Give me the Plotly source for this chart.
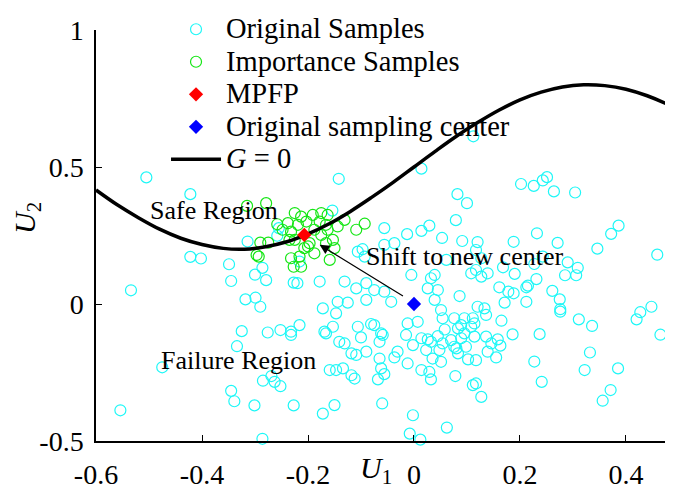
import plotly.graph_objects as go

# ---- Original samples (cyan open circles) ----
orig_u1 = [0.112,
 -0.505, -0.422, -0.314, -0.422, -0.402, -0.349, -0.345, -0.534, -0.300, -0.286, -0.279, -0.318, -0.299, -0.290, -0.255, -0.258, -0.227,
 -0.325, -0.276, -0.252, -0.232, -0.232, -0.334, -0.475, -0.285, -0.269, -0.263, -0.252, -0.345, -0.339, -0.301, -0.227, -0.554, -0.286,
 -0.142, 0.014, 0.082, 0.100, 0.079, -0.154, -0.056, -0.013, 0.014, 0.029, 0.053, 0.091, 0.120, 0.117, 0.127, -0.097, -0.106, -0.093,
 -0.056, -0.037, -0.005, 0.032, 0.039, 0.026, 0.045, -0.131, -0.109, -0.090, -0.075, -0.056, 0.086, -0.216, -0.220, -0.178, 0.061,
 0.108, 0.127, 0.117, 0.139,
 -0.172, -0.147, -0.144, -0.125, -0.090, -0.043, 0.007, -0.012, 0.039, 0.051, 0.054, 0.076, 0.095, 0.111, 0.120, 0.133, 0.136, 0.114,
 0.089, 0.083, 0.108, -0.216, -0.153, -0.169, -0.166, -0.106, -0.081, -0.075, -0.100, -0.062, -0.059, -0.065, -0.015, 0.014, 0.026,
 0.032, 0.045, 0.058, 0.054, 0.070, 0.080, 0.089, 0.095, 0.114, 0.136, -0.141, -0.131, -0.118, -0.109, -0.090, -0.065, -0.037, -0.031,
 -0.012, -0.002, 0.023, 0.035, 0.048, 0.051, 0.076, 0.083, 0.098, 0.102, 0.117, 0.139, 0.146, -0.159, -0.147, -0.134, -0.118, -0.112,
 -0.068, -0.062, -0.056, 0.014, 0.029, 0.032, 0.078, 0.111, 0.117, 0.127, -0.172, -0.150, -0.060, -0.002, -0.008, 0.012, 0.062,
 0.202, 0.226, 0.243, 0.251, 0.264, 0.304, 0.232, 0.188, 0.271, 0.346, 0.372, 0.386, 0.459, 0.168, 0.190, 0.227, 0.243, 0.290, 0.309,
 0.306, 0.285, 0.231, 0.215, 0.212, 0.161, 0.178, 0.188, 0.261, 0.275,
 0.171, 0.212, 0.276, 0.276, 0.165, 0.186, 0.158, 0.163, 0.155, 0.237, 0.311, 0.336, 0.332, 0.322, 0.227, 0.241, 0.385, 0.371, 0.356,
 0.420, 0.427, 0.448, 0.465]
orig_u2 = [0.612,
 0.462, 0.401, 0.228, 0.172, 0.166, 0.145, 0.084, 0.050, 0.107, 0.132, 0.087, 0.017, 0.023, -0.010, 0.277, 0.249, 0.078,
 -0.099, -0.104, -0.095, -0.101, -0.113, -0.154, -0.231, -0.280, -0.263, -0.284, -0.300, -0.317, -0.355, -0.370, -0.370, -0.388, -0.492,
 0.457, 0.494, 0.401, 0.368, 0.306, 0.341, 0.277, 0.255, 0.267, 0.286, 0.241, 0.230, 0.226, 0.197, 0.167, 0.200, 0.191, 0.173,
 0.216, 0.222, 0.106, 0.094, 0.106, 0.057, 0.051, 0.082, 0.057, 0.076, 0.051, 0.045, 0.029, 0.155, 0.076, 0.082, 0.161,
 0.112, 0.100, 0.124, 0.112,
 -0.016, -0.034, 0.008, 0.005, 0.015, 0.008, -0.065, -0.071, 0.015, -0.022, -0.052, -0.052, -0.052, -0.052, -0.010, -0.016, -0.040, -0.071,
 -0.077, -0.089, -0.083, -0.077, -0.083, -0.101, -0.107, -0.083, -0.073, -0.077, -0.122, -0.107, -0.113, -0.138, -0.113, -0.125, -0.129,
 -0.138, -0.117, -0.093, -0.144, -0.132, -0.162, -0.125, -0.107, -0.119, -0.119, -0.138, -0.144, -0.180, -0.186, -0.174, -0.199, -0.195, -0.174,
 -0.217, -0.150, -0.168, -0.199, -0.168, -0.211, -0.156, -0.180, -0.156, -0.202, -0.205, -0.174, -0.144, -0.241, -0.241, -0.235, -0.260, -0.272,
 -0.275, -0.235, -0.256, -0.241, -0.248, -0.275, -0.263, -0.296, -0.290, -0.339, -0.400, -0.369, -0.363, -0.406, -0.473, -0.495, -0.451,
 0.438, 0.431, 0.451, 0.463, 0.411, 0.407, 0.258, 0.227, 0.223, 0.202, 0.256, 0.286, 0.180, 0.134, 0.110, 0.146, 0.173, 0.152, 0.132,
 0.105, 0.105, 0.091, 0.067, 0.061, 0.061, 0.045, 0.039, 0.048, 0.017,
 0.005, 0.008, -0.019, -0.028, -0.061, -0.111, -0.129, -0.152, -0.195, -0.110, -0.056, -0.080, -0.177, -0.241, -0.210, -0.284, -0.235, -0.314, -0.353,
 -0.056, -0.030, -0.010, -0.112]

# ---- Importance samples (green open circles) ----
imp_u1 = [-0.315, -0.279, -0.258, -0.238, -0.248, -0.232, -0.235, -0.290, -0.275, -0.297, -0.293, -0.232, -0.227,
          -0.213, -0.219, -0.203, -0.191, -0.175, -0.163, -0.178, -0.166, -0.144, -0.131, -0.109, -0.093, -0.188,
          -0.175, -0.163, -0.153, -0.166, -0.150, -0.159, -0.200, -0.197, -0.207, -0.216, -0.213, -0.225, -0.188, -0.225]
imp_u2 = [0.358, 0.368, 0.291, 0.295, 0.271, 0.264, 0.234, 0.224, 0.224, 0.179, 0.173, 0.167, 0.136,
          0.319, 0.289, 0.301, 0.325, 0.332, 0.325, 0.301, 0.289, 0.283, 0.307, 0.271, 0.293, 0.271,
          0.252, 0.271, 0.234, 0.222, 0.204, 0.161, 0.210, 0.222, 0.204, 0.173, 0.136, 0.234, 0.185, 0.332]

# ---- MPFP and original sampling center ----
mpfp_u1 = [-0.207]
mpfp_u2 = [0.252]
center_u1 = [0.0]
center_u2 = [0.0]

# ---- Limit state curve G = 0 ----
g_u1 = [-0.60, -0.56, -0.52, -0.48, -0.44, -0.40, -0.36, -0.32, -0.28, -0.24, -0.20, -0.16, -0.12, -0.08, -0.04,
        0.00, 0.04, 0.08, 0.12, 0.16, 0.20, 0.24, 0.28, 0.32, 0.36, 0.40, 0.44, 0.48, 0.52]
g_u2 = [0.416, 0.362, 0.315, 0.273, 0.240, 0.217, 0.203, 0.200, 0.209, 0.227, 0.256, 0.293, 0.338, 0.389, 0.443,
        0.500, 0.557, 0.612, 0.662, 0.707, 0.745, 0.773, 0.792, 0.800, 0.797, 0.784, 0.760, 0.727, 0.685]

x_ticks = [-0.6, -0.4, -0.2, 0, 0.2, 0.4]
x_ticktext = ["-0.6", "-0.4", "-0.2", "0", "0.2", "0.4"]
y_ticks = [-0.5, 0, 0.5, 1]
y_ticktext = ["-0.5", "0", "0.5", "1"]

SERIF = "Liberation Serif"


def leg(name):
    return '<span style="font-size:28.5px">' + name + '</span>'


fig = go.Figure()
fig.add_trace(go.Scatter(x=orig_u1, y=orig_u2, mode="markers", name=leg("Original Samples"),
                         marker=dict(symbol="circle-open", size=11, color="#1ef7f7", line=dict(width=1.2)),
                         cliponaxis=False, legendrank=1))
fig.add_trace(go.Scatter(x=imp_u1, y=imp_u2, mode="markers", name=leg("Importance Samples"),
                         marker=dict(symbol="circle-open", size=11, color="#14e614", line=dict(width=1.2)),
                         cliponaxis=False, legendrank=2))
fig.add_trace(go.Scatter(x=g_u1, y=g_u2, mode="lines", name=leg("<i>G</i> = 0"),
                         line=dict(color="black", width=3.5, shape="spline"), legendrank=5))
fig.add_trace(go.Scatter(x=mpfp_u1, y=mpfp_u2, mode="markers", name=leg("MPFP"),
                         marker=dict(symbol="diamond", size=11, color="red"), legendrank=3))
fig.add_trace(go.Scatter(x=center_u1, y=center_u2, mode="markers", name=leg("Original sampling center"),
                         marker=dict(symbol="diamond", size=11, color="blue"), legendrank=4))

fig.add_annotation(x=mpfp_u1[0] + 0.029, y=mpfp_u2[0] - 0.036, ax=center_u1[0] - 0.018, ay=center_u2[0] + 0.026,
                   xref="x", yref="y", axref="x", ayref="y", showarrow=True, arrowhead=2, arrowsize=1.6,
                   arrowwidth=1.2, arrowcolor="black", text="")
fig.add_annotation(x=-0.378, y=0.340, xref="x", yref="y", text="Safe Region", showarrow=False,
                   font=dict(family=SERIF, size=26, color="black"))
fig.add_annotation(x=-0.331, y=-0.205, xref="x", yref="y", text="Failure Region", showarrow=False,
                   font=dict(family=SERIF, size=26, color="black"))
fig.add_annotation(x=0.095, y=0.172, xref="x", yref="y", text="Shift to new center", showarrow=False,
                   font=dict(family=SERIF, size=26, color="black"))
# axis titles
fig.add_annotation(x=0.4853, y=-50 / 411, xref="paper", yref="paper", yanchor="bottom",
                   text="<i>U</i><sub>1</sub>", showarrow=False, font=dict(family=SERIF, size=30, color="black"))
fig.add_annotation(x=-0.156, y=0.5426, xref="paper", yref="paper", textangle=-90,
                   text="<i>U</i><sub>2</sub>", showarrow=False, font=dict(family=SERIF, size=30, color="black"))

fig.update_layout(
    width=673, height=491,
    margin=dict(l=88, r=8, t=22, b=58, autoexpand=False),
    plot_bgcolor="white", paper_bgcolor="white",
    font=dict(family=SERIF, color="black"),
    showlegend=True,
    legend=dict(x=0.2348, y=1.0, xref="container", yref="container", xanchor="left", yanchor="top",
                bgcolor="rgba(0,0,0,0)",
                font=dict(family=SERIF, size=22.7, color="black"), itemwidth=50, tracegroupgap=0),
    xaxis=dict(range=[-0.6, 0.4887], tickvals=x_ticks, ticktext=x_ticktext, ticks="inside", ticklen=6,
               tickcolor="black", showline=True, linecolor="black", linewidth=1.5, showgrid=False,
               zeroline=False, ticklabelstandoff=8, tickfont=dict(family=SERIF, size=28, color="black")),
    yaxis=dict(range=[-0.5, 1.0], tickvals=y_ticks, ticktext=y_ticktext, ticks="inside", ticklen=6,
               tickcolor="black", showline=True, linecolor="black", linewidth=1.5, showgrid=False,
               zeroline=False, ticklabelstandoff=5, tickfont=dict(family=SERIF, size=28, color="black")),
)

fig.write_html("out.html")
